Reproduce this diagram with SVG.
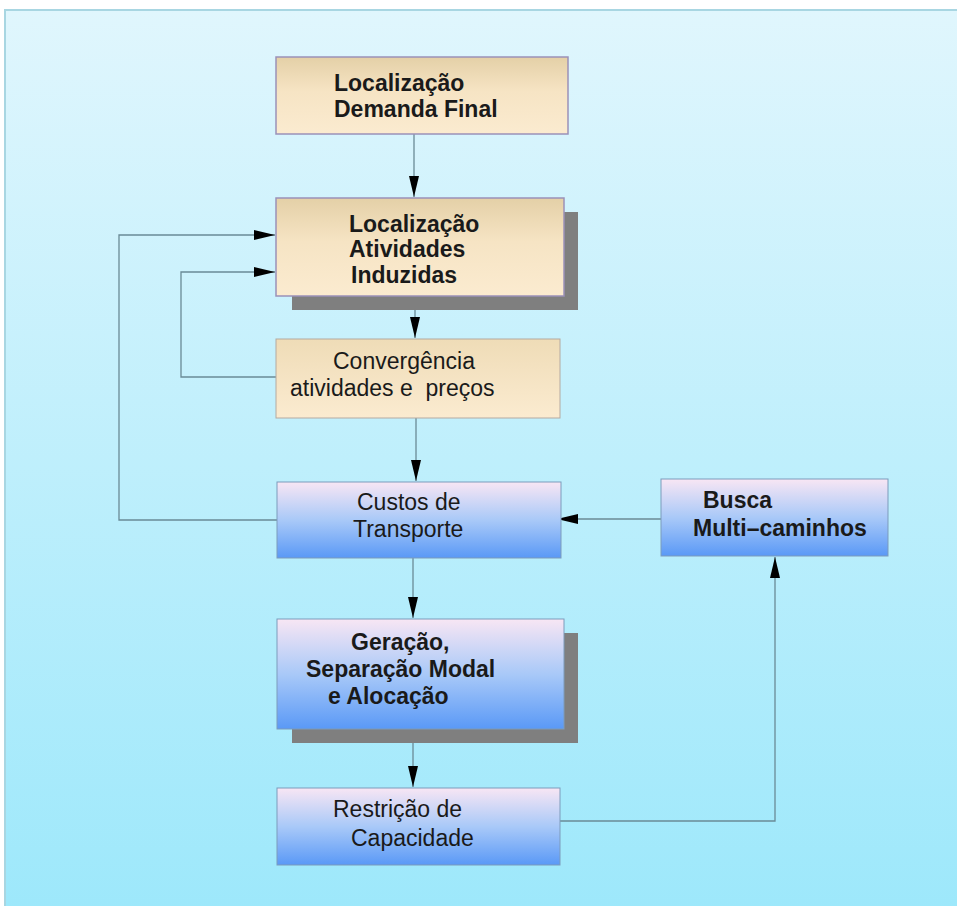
<svg xmlns="http://www.w3.org/2000/svg" width="957" height="906" viewBox="0 0 957 906">
<defs>
<linearGradient id="bg" x1="0" y1="0" x2="0" y2="1">
<stop offset="0" stop-color="#e0f6fd"/>
<stop offset="1" stop-color="#9de8fb"/>
</linearGradient>
<linearGradient id="beige" x1="0" y1="0" x2="0" y2="1">
<stop offset="0" stop-color="#e4d0a7"/>
<stop offset="0.45" stop-color="#f6e4c4"/>
<stop offset="1" stop-color="#fbebd0"/>
</linearGradient>
<linearGradient id="beige2" x1="0" y1="0" x2="0" y2="1">
<stop offset="0" stop-color="#efdcb7"/>
<stop offset="1" stop-color="#fbebd0"/>
</linearGradient>
<linearGradient id="blue" x1="0" y1="0" x2="0" y2="1">
<stop offset="0" stop-color="#f8e6f4"/>
<stop offset="0.5" stop-color="#a9c9f8"/>
<stop offset="1" stop-color="#5a99f6"/>
</linearGradient>
<marker id="ah" markerUnits="userSpaceOnUse" markerWidth="22" markerHeight="12" refX="21" refY="5" orient="auto">
<path d="M0,0 L21,5 L0,10 z" fill="#000"/>
</marker>
<style>
.t{font-family:"Liberation Sans",Arial,sans-serif;font-size:23px;fill:#1a1a1a}
.b{font-weight:bold}
.shadow{fill:#7f7f7f}
.bx1{fill:url(#beige);stroke:#9b91b8;stroke-width:1.5}
.bx2{fill:url(#beige2);stroke:#b4a9a0;stroke-width:1}
.bxb{fill:url(#blue);stroke:#7d9bbb;stroke-width:1}
.c{fill:none;stroke:#6a8a96;stroke-width:1.3}
</style>
</defs>
<rect x="0" y="0" width="957" height="906" fill="#ffffff"/>
<rect x="5" y="10" width="960" height="905" fill="url(#bg)" stroke="#a8d6e2" stroke-width="2"/>

<g id="connectors">
<path class="c" d="M414,134 L414,197" marker-end="url(#ah)"/>
<path class="c" d="M415,296 L415,338" marker-end="url(#ah)"/>
<path class="c" d="M416,418 L416,481" marker-end="url(#ah)"/>
<path class="c" d="M413,558 L413,618" marker-end="url(#ah)"/>
<path class="c" d="M413,729 L413,787" marker-end="url(#ah)"/>
<path class="c" d="M277,520 L119,520 L119,235 L275,235" marker-end="url(#ah)"/>
<path class="c" d="M276,377 L181,377 L181,272 L275,272" marker-end="url(#ah)"/>
<path class="c" d="M661,519 L557,519" marker-end="url(#ah)"/>
<path class="c" d="M560,821 L775,821 L775,557" marker-end="url(#ah)"/>
</g>

<g id="n1">
<rect class="bx1" x="276" y="57" width="292" height="77"/>
<text class="t b" x="334" y="91">Localização</text>
<text class="t b" x="334" y="117">Demanda Final</text>
</g>

<g id="n2">
<rect class="shadow" x="292" y="212" width="286" height="98"/>
<rect class="bx1" x="276" y="198" width="288" height="98"/>
<text class="t b" x="349" y="232">Localização</text>
<text class="t b" x="349" y="257">Atividades</text>
<text class="t b" x="351" y="283">Induzidas</text>
</g>

<g id="n3">
<rect class="bx2" x="276" y="339" width="284" height="79"/>
<text class="t" x="333" y="369">Convergência</text>
<text class="t" x="290" y="396" xml:space="preserve">atividades e  preços</text>
</g>

<g id="n4">
<rect class="bxb" x="277" y="482" width="284" height="76"/>
<text class="t" x="357" y="510">Custos de</text>
<text class="t" x="353" y="537">Transporte</text>
</g>

<g id="n6">
<rect class="bxb" x="661" y="479" width="227" height="77"/>
<text class="t b" x="703" y="508">Busca</text>
<text class="t b" x="693" y="536">Multi–caminhos</text>
</g>

<g id="n5">
<rect class="shadow" x="292" y="633" width="286" height="110"/>
<rect class="bxb" x="277" y="619" width="287" height="110"/>
<text class="t b" x="351" y="650">Geração,</text>
<text class="t b" x="306" y="677">Separação Modal</text>
<text class="t b" x="328" y="704">e Alocação</text>
</g>

<g id="n7">
<rect class="bxb" x="277" y="788" width="283" height="77"/>
<text class="t" x="333" y="817">Restrição de</text>
<text class="t" x="351" y="846">Capacidade</text>
</g>
</svg>
